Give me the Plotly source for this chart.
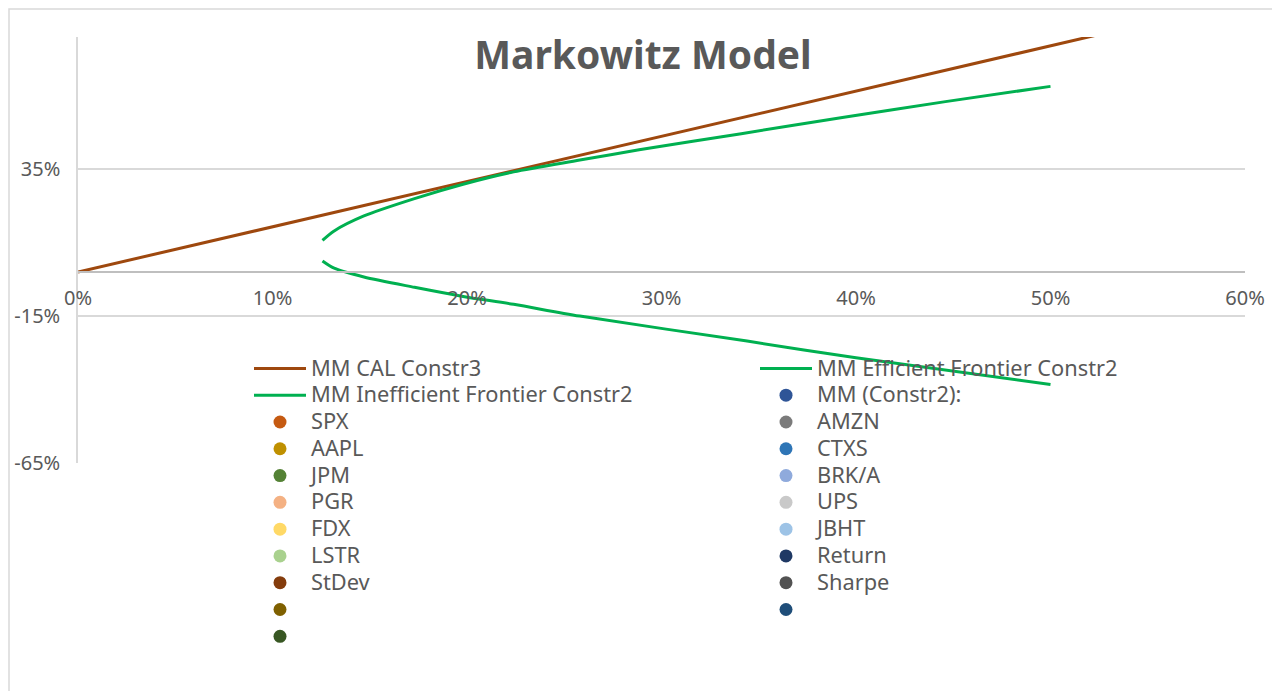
import plotly.graph_objects as go

# capital allocation line (stdev, return)
cal_sd = [0.0, 0.1, 0.2, 0.3, 0.4, 0.5, 0.6]
cal_ret = [0.0, 0.154, 0.308, 0.462, 0.616, 0.770, 0.924]

# efficient frontier, upper branch
eff_sd = [0.1257, 0.1317, 0.147, 0.173, 0.198, 0.224, 0.258, 0.2885, 0.341, 0.393, 0.446, 0.500]
eff_ret = [0.108, 0.140, 0.191, 0.250, 0.299, 0.341, 0.381, 0.416, 0.471, 0.526, 0.580, 0.632]

# inefficient frontier, lower branch
ineff_sd = [0.1257, 0.1317, 0.147, 0.173, 0.198, 0.224, 0.258, 0.344, 0.400, 0.500]
ineff_ret = [0.0375, 0.013, -0.017, -0.052, -0.083, -0.110, -0.150, -0.235, -0.292, -0.383]

# point series that only show up in the legend
left_names = ['SPX', 'AAPL', 'JPM', 'PGR', 'FDX', 'LSTR', 'StDev', ' ', '  ']
left_colors = ['#C55A11', '#BF9000', '#548235', '#F4B183', '#FFD966', '#A9D18E',
               '#843C0C', '#7F6000', '#385723']
right_names = ['MM (Constr2):', 'AMZN', 'CTXS', 'BRK/A', 'UPS', 'JBHT', 'Return', 'Sharpe', '   ']
right_colors = ['#2F5597', '#7B7B7B', '#2E75B6', '#8FAADC', '#C9C9C9', '#9DC3E6',
                '#1F3864', '#525252', '#1F4E79']

y_ticks = [-0.65, -0.15, 0.35]
y_labels = ['-65%', '-15%', '35%']
x_ticks = [0, 0.1, 0.2, 0.3, 0.4, 0.5, 0.6]


def lbl(s):
    # legend text a bit larger than the row spacing allows
    return '<span style="font-size:21.8px">' + s + '</span>'


fig = go.Figure()

fig.add_trace(go.Scatter(x=cal_sd, y=cal_ret, mode='lines', name=lbl('MM CAL Constr3'),
                         line=dict(color='#9E480E', width=3), legend='legend'))
fig.add_trace(go.Scatter(x=eff_sd, y=eff_ret, mode='lines', name=lbl('MM Efficient Frontier Constr2'),
                         line=dict(color='#00B050', width=3, shape='spline', smoothing=0.8),
                         legend='legend2'))
fig.add_trace(go.Scatter(x=ineff_sd, y=ineff_ret, mode='lines', name=lbl('MM Inefficient Frontier Constr2'),
                         line=dict(color='#00B050', width=3, shape='spline', smoothing=0.8),
                         legend='legend'))

for name, col in zip(left_names, left_colors):
    fig.add_trace(go.Scatter(x=[None], y=[None], mode='markers', name=lbl(name),
                             marker=dict(color=col, size=13), legend='legend'))
for name, col in zip(right_names, right_colors):
    fig.add_trace(go.Scatter(x=[None], y=[None], mode='markers', name=lbl(name),
                             marker=dict(color=col, size=13), legend='legend2'))

ymin, ymax = -0.65, 0.80
W, H = 1272, 683
L, T, PW, PH = 70, 29, 1167, 426
legend_font = dict(family='Noto Sans', size=18.3, color='#595959')

fig.update_layout(
    width=W, height=H,
    margin=dict(l=L, r=W - L - PW, t=T, b=H - T - PH, autoexpand=False),
    paper_bgcolor='white', plot_bgcolor='white',
    font=dict(family='Noto Sans', color='#595959'),
    title=dict(text='<b>Markowitz Model</b>', x=635 / W, xanchor='center',
               y=1 - 47 / H, yanchor='middle',
               font=dict(family='Noto Sans', size=39, color='#595959')),
    xaxis=dict(range=[0, 0.6], tickvals=x_ticks, tickformat='.0%',
               showgrid=False, zeroline=False, showline=True, linecolor='#BFBFBF', linewidth=1.5,
               anchor='free', position=(0 - ymin) / (ymax - ymin),
               ticklabelstandoff=8, tickfont=dict(size=20, color='#595959')),
    yaxis=dict(range=[ymin, ymax], tickvals=y_ticks, ticktext=y_labels,
               showgrid=True, gridcolor='#D9D9D9', gridwidth=1.5,
               zeroline=False, showline=True, linecolor='#D9D9D9', linewidth=1.5,
               ticklabelstandoff=12, tickfont=dict(size=20, color='#595959')),
    legend=dict(x=(241 - L) / PW, y=(T + PH - 342) / PH, xanchor='left', yanchor='top',
                bgcolor='rgba(0,0,0,0)', font=legend_font, itemwidth=52, tracegroupgap=0),
    legend2=dict(x=(747 - L) / PW, y=(T + PH - 342) / PH, xanchor='left', yanchor='top',
                 bgcolor='rgba(0,0,0,0)', font=legend_font, itemwidth=52, tracegroupgap=0),
    showlegend=True,
    shapes=[dict(type='rect', xref='paper', yref='paper',
                 x0=(1 - L) / PW, x1=(1271 - L) / PW,
                 y0=(T + PH - 700) / PH, y1=(T + PH - 1) / PH,
                 line=dict(color='#D9D9D9', width=1.5), layer='below')],
)

fig.write_html("out.html")
